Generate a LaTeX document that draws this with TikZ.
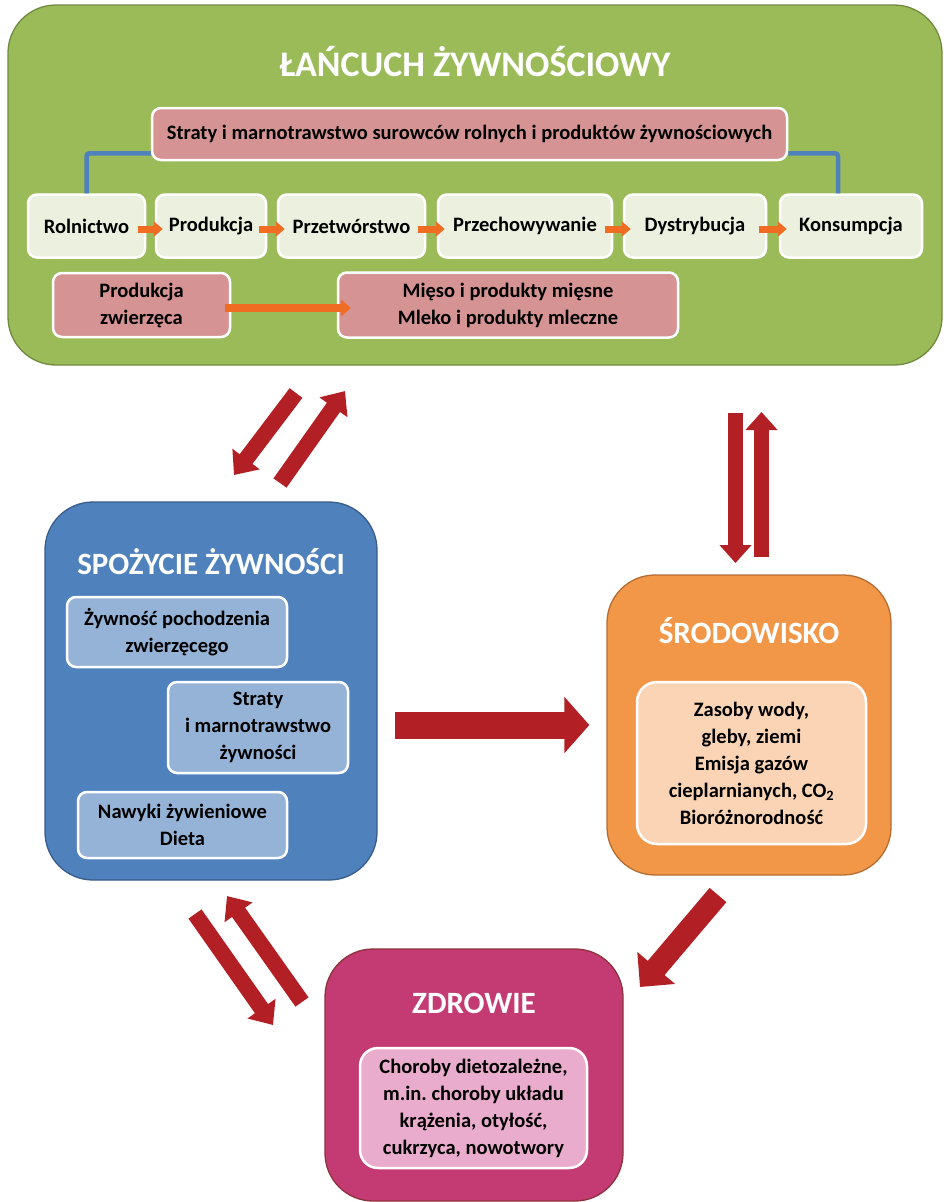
\documentclass[tikz,border=0pt]{standalone}
\usepackage{fontspec}
\setmainfont{Carlito}
\usetikzlibrary{arrows.meta}
\frenchspacing
\definecolor{chaingreen}{RGB}{155,187,89}
\definecolor{chainedge}{RGB}{113,137,63}
\definecolor{steplight}{RGB}{235,241,222}
\definecolor{lossrose}{RGB}{213,147,147}
\definecolor{flowor}{RGB}{240,108,34}
\definecolor{bracketblue}{RGB}{79,129,189}
\definecolor{bigred}{RGB}{178,31,36}
\definecolor{dietblue}{RGB}{79,129,189}
\definecolor{dietedge}{RGB}{56,93,138}
\definecolor{dietlight}{RGB}{149,179,215}
\definecolor{envor}{RGB}{242,150,72}
\definecolor{envedge}{RGB}{182,109,49}
\definecolor{envlight}{RGB}{250,212,180}
\definecolor{healthpink}{RGB}{196,59,116}
\definecolor{healthedge}{RGB}{140,50,60}
\definecolor{healthlight}{RGB}{234,172,205}
\tikzset{
  panel/.style={draw=#1, line width=1.3pt, rounded corners=48pt},
  inbox/.style={draw=white, line width=2.5pt, rounded corners=9pt, align=center,
    font=\bfseries\fontsize{20.5}{27}\selectfont, inner sep=2pt},
  head/.style={text=white, font=\bfseries\fontsize{31}{36}\selectfont},
  flow/.style={draw=flowor, line width=7pt, -{Triangle[width=15pt,length=9pt]}},
  redarrow/.style={draw=bigred, line width=16pt, -{Triangle[width=33pt,length=20pt]}},
}
\begin{document}
\begin{tikzpicture}[x=1pt,y=-1pt]
\useasboundingbox (0,0) rectangle (944,1202);
\node [panel=chainedge, fill=chaingreen, minimum width=934pt, minimum height=360pt] (chain) at (475,185) {};
\node [head, font=\bfseries\fontsize{36}{40}\selectfont] (chaintitle) at (475,62) {ŁAŃCUCH ŻYWNOŚCIOWY};
\node [inbox, fill=lossrose, minimum width=635pt, minimum height=52pt] (straty) at (469.5,134) {Straty i marnotrawstwo surowców rolnych i produktów żywnościowych};
\node [inbox, fill=steplight, minimum width=117pt, minimum height=63pt] (rol) at (86.5,226) {Rolnictwo};
\node [inbox, fill=steplight, minimum width=110pt, minimum height=63pt] (prod) at (211,226) {Produkcja};
\node [inbox, fill=steplight, minimum width=147pt, minimum height=63pt] (przetw) at (351.5,226) {Przetwórstwo};
\node [inbox, fill=steplight, minimum width=174pt, minimum height=63pt] (przech) at (525,226) {Przechowywanie};
\node [inbox, fill=steplight, minimum width=142pt, minimum height=63pt] (dystr) at (695,226) {Dystrybucja};
\node [inbox, fill=steplight, minimum width=142pt, minimum height=63pt] (kons) at (851,226) {Konsumpcja};
\node [inbox, fill=lossrose, minimum width=177pt, minimum height=64pt] (zwierz) at (141.5,305) {Produkcja\\zwierzęca};
\node [inbox, fill=lossrose, minimum width=340pt, minimum height=65pt] (mieso) at (508,305) {Mięso i produkty mięsne\\Mleko i produkty mleczne};
\draw [bracketblue, line width=4.5pt, rounded corners=3pt] (rol.north) |- ([yshift=8pt]straty.south west);
\draw [bracketblue, line width=4.5pt, rounded corners=3pt] ([xshift=-13pt]kons.north) |- ([yshift=8pt]straty.south east);
\draw [flow] ([shift={(-8pt,-3pt)}]rol.east) -- ([shift={(8pt,-3pt)}]prod.west);
\draw [flow] ([shift={(-8pt,-3pt)}]prod.east) -- ([shift={(8pt,-3pt)}]przetw.west);
\draw [flow] ([shift={(-8pt,-3pt)}]przetw.east) -- ([shift={(8pt,-3pt)}]przech.west);
\draw [flow] ([shift={(-8pt,-3pt)}]przech.east) -- ([shift={(8pt,-3pt)}]dystr.west);
\draw [flow] ([shift={(-8pt,-3pt)}]dystr.east) -- ([shift={(8pt,-3pt)}]kons.west);
\draw [flow, line width=8pt, -{Triangle[width=17pt,length=10pt]}] ([shift={(-6pt,-3pt)}]zwierz.east) -- ([shift={(14pt,-3pt)}]mieso.west);

\node [panel=dietedge, fill=dietblue, minimum width=332pt, minimum height=378pt] (diet) at (211,691) {};
\node [head] (diettitle) at (211,562) {SPOŻYCIE ŻYWNOŚCI};
\node [inbox, fill=dietlight, minimum width=220pt, minimum height=70pt] (animal) at (177,632) {Żywność pochodzenia\\zwierzęcego};
\node [inbox, fill=dietlight, minimum width=180pt, minimum height=91pt] (waste) at (258,727.5) {Straty\\i marnotrawstwo\\żywności};
\node [inbox, fill=dietlight, minimum width=209pt, minimum height=66pt] (habits) at (182.5,825) {Nawyki żywieniowe\\Dieta};

\node [panel=envedge, fill=envor, minimum width=284pt, minimum height=300pt] (env) at (749,725) {};
\node [head] (envtitle) at (749,631) {ŚRODOWISKO};
\node [inbox, fill=envlight, rounded corners=20pt, minimum width=229pt, minimum height=162pt] (resources) at (751.5,763) {Zasoby wody,\\gleby, ziemi\\Emisja gazów\\cieplarnianych, CO\textsubscript{2}\\Bioróżnorodność};

\node [panel=healthedge, fill=healthpink, minimum width=298pt, minimum height=252pt] (health) at (474,1075) {};
\node [head] (healthtitle) at (474,1003) {ZDROWIE};
\node [inbox, fill=healthlight, rounded corners=18pt, minimum width=227pt, minimum height=120pt] (diseases) at (473.5,1108) {Choroby dietozależne,\\m.in. choroby układu\\krążenia, otyłość,\\cukrzyca, nowotwory};

\coordinate (c1) at (296,393);
\coordinate (c2) at (234,475);
\coordinate (c3) at (280,483);
\coordinate (c4) at (345,391);
\coordinate (e1) at (735.5,413);
\coordinate (e2) at (735.5,563);
\coordinate (e3) at (761.5,557);
\coordinate (e4) at (761.5,412);
\coordinate (h1) at (195,914);
\coordinate (h2) at (273,1025);
\coordinate (h3) at (302,1002);
\coordinate (h4) at (227,896);
\coordinate (g1) at (718,895);
\coordinate (g2) at (640,987);
\draw [redarrow] (c1) -- (c2);
\draw [redarrow] (c3) -- (c4);
\draw [redarrow, line width=15pt, -{Triangle[width=31pt,length=18pt]}] (e1) -- (e2);
\draw [redarrow, line width=15pt, -{Triangle[width=31pt,length=18pt]}] (e3) -- (e4);
\draw [redarrow, line width=27pt, -{Triangle[width=55pt,length=25pt]}] (diet.east |- env.center) ++(17pt,0) -- ([xshift=-17pt]env.west);
\draw [redarrow] (h1) -- (h2);
\draw [redarrow] (h3) -- (h4);
\draw [redarrow, line width=22pt, -{Triangle[width=48pt,length=25pt]}] (g1) -- (g2);
\end{tikzpicture}
\end{document}
